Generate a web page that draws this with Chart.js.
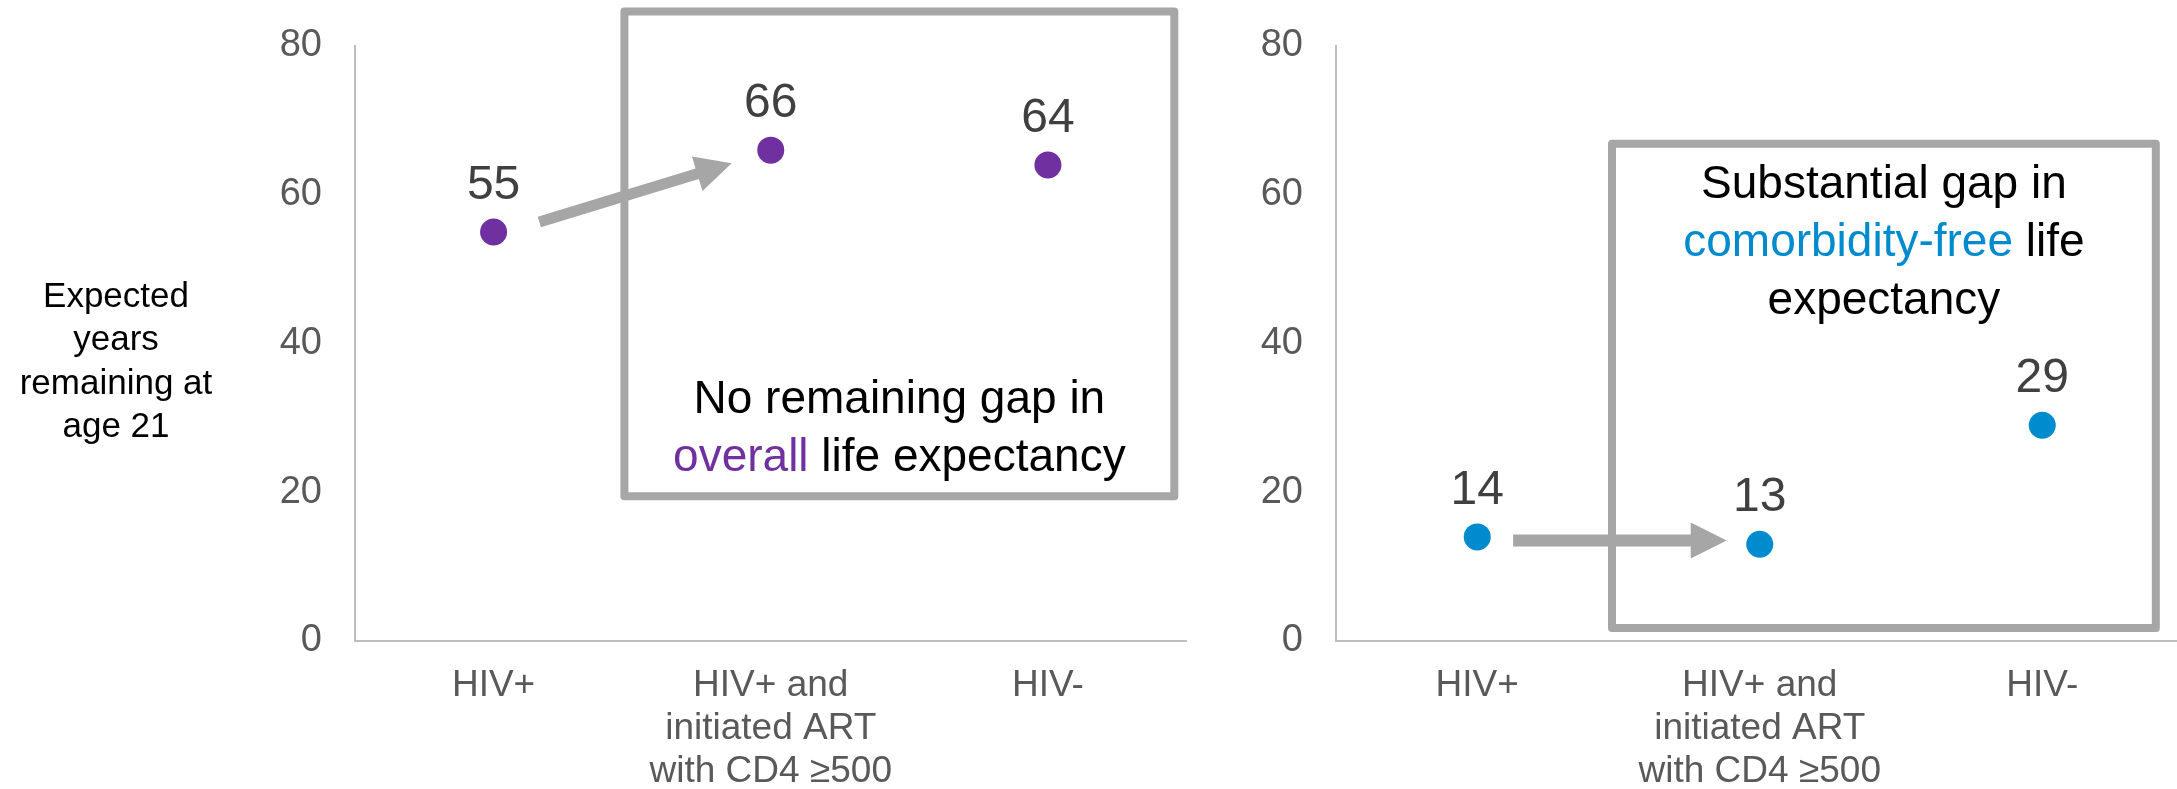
<!DOCTYPE html>
<html>
<head>
<meta charset="utf-8">
<script src="https://cdn.jsdelivr.net/npm/chart.js@4.4.1/dist/chart.umd.min.js"></script>
<style>
    html, body { margin: 0; padding: 0; width: 2177px; height: 789px; overflow: hidden; background: #fff; }
    #leftWrap { position: absolute; left: 0; top: 0; }
    #rightWrap { position: absolute; left: 1200px; top: 0; }
</style>
</head>
<body>
<div id="leftWrap"><canvas id="overallChart" width="1200" height="789"></canvas></div>
<div id="rightWrap"><canvas id="comorbidityChart" width="997" height="789"></canvas></div>
<script>
const CATEGORIES = [['HIV+'], ['HIV+ and', 'initiated ART', 'with CD4 ≥500'], ['HIV-']];
const OVERALL_YEARS = [55, 66, 64];
const COMORBIDITY_FREE_YEARS = [14, 13, 29];
const Y_MIN = 0;
const Y_MAX = 80;
const Y_STEP = 20;
const Y_TITLE_LINES = ['Expected', 'years', 'remaining at', 'age 21'];

const FONT = '"Liberation Sans", Arial, sans-serif';
const PURPLE = '#7030A0';
const BLUE = '#008BCE';
const GRAY = '#A6A6A6';
const AXIS = '#BFBFBF';

// call-outs, placed in data units (category index, years)
const OVERALL_NOTES = {
    box: { x0: 0.472, x1: 2.456, y0: 19.46, y1: 84.64 },
    arrow: { x0: 0.165, y0: 56.34, x1: 0.859, y1: 64.23, shaft: 11 },
    textY: 30.6,
    lines: [
        [{ text: 'No remaining gap in', color: '#000' }],
        [{ text: 'overall', color: PURPLE }, { text: ' life expectancy', color: '#000' }]
    ]
};
const COMORBIDITY_NOTES = {
    box: { x0: 0.477, x1: 2.402, y0: 1.75, y1: 66.86 },
    arrow: { x0: 0.127, y0: 13.51, x1: 0.883, y1: 13.51, shaft: 12 },
    textY: 59.5,
    lines: [
        [{ text: 'Substantial gap in', color: '#000' }],
        [{ text: 'comorbidity-free', color: BLUE }, { text: ' life', color: '#000' }],
        [{ text: 'expectancy', color: '#000' }]
    ]
};

function drawArrow(ctx, x0, y0, x1, y1, shaft) {
    const headLen = 36, headHalf = 18;
    const len = Math.hypot(x1 - x0, y1 - y0);
    ctx.save();
    ctx.translate(x0, y0);
    ctx.rotate(Math.atan2(y1 - y0, x1 - x0));
    ctx.beginPath();
    ctx.moveTo(0, -shaft / 2);
    ctx.lineTo(len - headLen, -shaft / 2);
    ctx.lineTo(len - headLen, -headHalf);
    ctx.lineTo(len, 0);
    ctx.lineTo(len - headLen, headHalf);
    ctx.lineTo(len - headLen, shaft / 2);
    ctx.lineTo(0, shaft / 2);
    ctx.closePath();
    ctx.fillStyle = GRAY;
    ctx.fill();
    ctx.restore();
}

function makeNotes(notes, withTitle) {
    return {
        id: 'notes',
        beforeDatasetsDraw(chart) {
            const { ctx, scales: { x, y } } = chart;
            const b = notes.box;
            ctx.save();
            ctx.strokeStyle = GRAY;
            ctx.lineWidth = 8;
            ctx.lineJoin = 'round';
            const bx0 = x.getPixelForValue(b.x0), bx1 = x.getPixelForValue(b.x1);
            const by0 = y.getPixelForValue(b.y1), by1 = y.getPixelForValue(b.y0);
            ctx.strokeRect(bx0, by0, bx1 - bx0, by1 - by0);
            ctx.restore();

            const a = notes.arrow;
            drawArrow(ctx, x.getPixelForValue(a.x0), y.getPixelForValue(a.y0),
                x.getPixelForValue(a.x1), y.getPixelForValue(a.y1), a.shaft);
        },
        afterDatasetsDraw(chart) {
            const { ctx, scales: { x, y } } = chart;
            const ds = chart.data.datasets[0];
            ctx.save();
            ctx.font = '48px ' + FONT;
            ctx.fillStyle = '#404040';
            ctx.textAlign = 'center';
            ctx.textBaseline = 'alphabetic';
            chart.getDatasetMeta(0).data.forEach((pt, i) => {
                ctx.fillText(String(ds.data[i]), pt.x, pt.y - 33);
            });

            // box text with a coloured keyword
            ctx.font = '46px ' + FONT;
            ctx.textAlign = 'left';
            const cx = (x.getPixelForValue(notes.box.x0) + x.getPixelForValue(notes.box.x1)) / 2;
            const base = y.getPixelForValue(notes.textY);
            notes.lines.forEach((segs, i) => {
                const total = segs.reduce((w, s) => w + ctx.measureText(s.text).width, 0);
                let xp = cx - total / 2;
                segs.forEach(s => {
                    ctx.fillStyle = s.color;
                    ctx.fillText(s.text, xp, base + i * 58);
                    xp += ctx.measureText(s.text).width;
                });
            });

            if (withTitle) {
                ctx.font = '35px ' + FONT;
                ctx.fillStyle = '#000';
                ctx.textAlign = 'center';
                Y_TITLE_LINES.forEach((t, i) => ctx.fillText(t, 116, 307 + i * 43.3));
            }
            ctx.restore();
        }
    };
}

function buildChart(canvasId, values, color, axisWidth, padRight, notes, withTitle) {
    return new Chart(document.getElementById(canvasId), {
        type: 'line',
        data: {
            labels: CATEGORIES,
            datasets: [{
                data: values,
                showLine: false,
                pointRadius: 13.5,
                pointHoverRadius: 13.5,
                pointBackgroundColor: color,
                pointBorderWidth: 0,
                borderColor: color
            }]
        },
        options: {
            responsive: false,
            animation: false,
            events: [],
            layout: { padding: { top: 46, right: padRight, left: 0, bottom: 0 } },
            plugins: { legend: { display: false }, tooltip: { enabled: false } },
            scales: {
                x: {
                    offset: true,
                    grid: { display: false, drawTicks: false },
                    border: { color: AXIS, width: 2 },
                    ticks: {
                        color: '#595959',
                        padding: 23,
                        maxRotation: 0,
                        autoSkip: false,
                        font: { family: FONT, size: 37, lineHeight: 43 / 37 }
                    },
                    afterFit: s => { s.height = 148; }
                },
                y: {
                    min: Y_MIN,
                    max: Y_MAX,
                    grid: { display: false, drawTicks: false },
                    border: { color: AXIS, width: 2 },
                    ticks: {
                        stepSize: Y_STEP,
                        color: '#595959',
                        padding: 33,
                        font: { family: FONT, size: 38 }
                    },
                    afterFit: s => {
                        s.width = axisWidth;
                        s.paddingTop = 0;
                        s.paddingBottom = 0;
                    }
                }
            }
        },
        plugins: [makeNotes(notes, withTitle)]
    });
}

buildChart('overallChart', OVERALL_YEARS, PURPLE, 355, 11, OVERALL_NOTES, true);
buildChart('comorbidityChart', COMORBIDITY_FREE_YEARS, BLUE, 136, 0, COMORBIDITY_NOTES, false);
</script>
</body>
</html>
